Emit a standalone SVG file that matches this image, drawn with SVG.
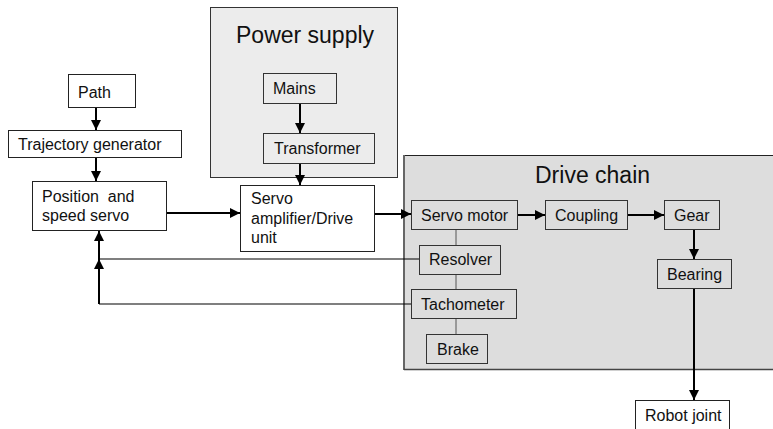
<svg xmlns="http://www.w3.org/2000/svg" width="773" height="429" viewBox="0 0 773 429">
  <style>
    text { font-family: "Liberation Sans", Arial, sans-serif; font-size: 16px; fill: #111; }
    .big { font-size: 23px; }
    .box { fill: #ffffff; stroke: #222; stroke-width: 1; }
    .inbox { fill: none; stroke: #333; stroke-width: 1; }
    .flow { stroke: #000; stroke-width: 2; fill: none; }
    .fb { stroke: #000; stroke-width: 1.2; fill: none; }
    .link { stroke: #555; stroke-width: 1; fill: none; }
  </style>
  <defs>
    <marker id="arrow" viewBox="0 0 10 10" refX="10" refY="5" markerWidth="5" markerHeight="5" orient="auto" markerUnits="strokeWidth">
      <path d="M0,0 L10,5 L0,10 z" fill="#000"/>
    </marker>
  </defs>

  <!-- Containers -->
  <g id="power-supply">
    <rect x="210.5" y="7.5" width="187" height="170" fill="#ececec" stroke="#333" stroke-width="1"/>
    <text class="big" x="236" y="43">Power supply</text>
  </g>
  <g id="drive-chain">
    <rect x="404" y="155" width="372" height="215" fill="#dddddd"/>
    <line x1="404" y1="155.5" x2="773" y2="155.5" stroke="#222" stroke-width="1"/>
    <line x1="404" y1="155" x2="404" y2="370" stroke="#666" stroke-width="2"/>
    <line x1="404" y1="369.5" x2="773" y2="369.5" stroke="#444" stroke-width="1.5"/>
    <text class="big" x="535" y="183">Drive chain</text>
  </g>

  <!-- Nodes -->
  <g id="path">
    <rect class="box" x="68.5" y="74.5" width="67" height="33"/>
    <text x="78" y="98">Path</text>
  </g>
  <g id="trajectory-generator">
    <rect class="box" x="8.5" y="130.5" width="173" height="27"/>
    <text x="18" y="150">Trajectory generator</text>
  </g>
  <g id="position-servo">
    <rect class="box" x="32.5" y="181.5" width="134" height="49"/>
    <text x="42" y="202" xml:space="preserve">Position  and</text>
    <text x="42" y="221">speed servo</text>
  </g>
  <g id="mains">
    <rect class="inbox" x="263.5" y="73.5" width="73" height="30"/>
    <text x="273" y="94">Mains</text>
  </g>
  <g id="transformer">
    <rect class="inbox" x="263.5" y="133.5" width="111" height="30"/>
    <text x="274" y="154">Transformer</text>
  </g>
  <g id="servo-amplifier">
    <rect class="box" x="240.5" y="185.5" width="134" height="66"/>
    <text x="251" y="204">Servo</text>
    <text x="251" y="224">amplifier/Drive</text>
    <text x="251" y="243">unit</text>
  </g>
  <g id="servo-motor">
    <rect class="inbox" x="411.5" y="200.5" width="106" height="29"/>
    <text x="421" y="221">Servo motor</text>
  </g>
  <g id="coupling">
    <rect class="inbox" x="545.5" y="200.5" width="82" height="29"/>
    <text x="555" y="221">Coupling</text>
  </g>
  <g id="gear">
    <rect class="inbox" x="664.5" y="200.5" width="55" height="29"/>
    <text x="674" y="221">Gear</text>
  </g>
  <g id="bearing">
    <rect class="inbox" x="657.5" y="259.5" width="74" height="29"/>
    <text x="667" y="280">Bearing</text>
  </g>
  <g id="resolver">
    <rect class="inbox" x="419.5" y="245.5" width="81" height="29"/>
    <text x="429" y="265">Resolver</text>
  </g>
  <g id="tachometer">
    <rect class="inbox" x="411.5" y="289.5" width="105" height="29"/>
    <text x="421" y="310">Tachometer</text>
  </g>
  <g id="brake">
    <rect class="inbox" x="426.5" y="334.5" width="61" height="29"/>
    <text x="437" y="355">Brake</text>
  </g>
  <g id="robot-joint">
    <rect class="box" x="635.5" y="400.5" width="94" height="30"/>
    <text x="645" y="421">Robot joint</text>
  </g>

  <!-- Connectors -->
  <g id="connectors">
    <line class="flow" x1="96" y1="108" x2="96" y2="130" marker-end="url(#arrow)"/>
    <line class="flow" x1="96" y1="158" x2="96" y2="181" marker-end="url(#arrow)"/>
    <line class="flow" x1="300" y1="104" x2="300" y2="133" marker-end="url(#arrow)"/>
    <line class="flow" x1="300" y1="164" x2="300" y2="185" marker-end="url(#arrow)"/>
    <line class="flow" x1="167" y1="213" x2="240" y2="213" marker-end="url(#arrow)"/>
    <line class="flow" x1="375" y1="214" x2="411" y2="214" marker-end="url(#arrow)"/>
    <line class="flow" x1="518" y1="215" x2="545" y2="215" marker-end="url(#arrow)"/>
    <line class="flow" x1="628" y1="215" x2="664" y2="215" marker-end="url(#arrow)"/>
    <line class="flow" x1="694" y1="230" x2="694" y2="259" marker-end="url(#arrow)"/>
    <line class="flow" x1="694" y1="289" x2="694" y2="400" marker-end="url(#arrow)"/>
    <!-- sensor couplings on the motor shaft -->
    <line class="link" x1="456" y1="230" x2="456" y2="245"/>
    <line class="link" x1="456" y1="275" x2="456" y2="289"/>
    <line class="link" x1="456" y1="319" x2="456" y2="334"/>
    <!-- feedback paths -->
    <polyline class="fb" points="419,259 99,259"/>
    <polyline class="fb" points="411,304 99,304"/>
    <line class="flow" x1="99" y1="304" x2="99" y2="259" marker-end="url(#arrow)"/>
    <line class="flow" x1="99" y1="259" x2="99" y2="231" marker-end="url(#arrow)"/>
  </g>
</svg>
